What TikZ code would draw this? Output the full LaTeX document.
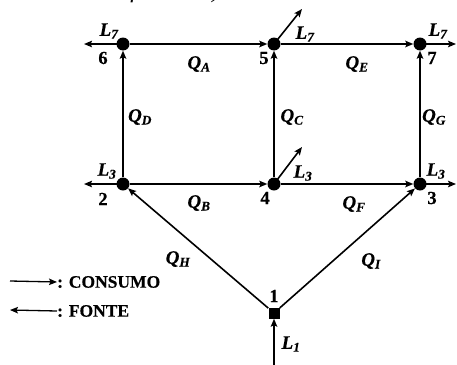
\documentclass[tikz,border=0pt]{standalone}
\usepackage{fontspec}
\setmainfont{Liberation Serif}[BoldFeatures={FakeBold=0.4},BoldItalicFeatures={FakeBold=0.4}]
\usetikzlibrary{arrows.meta}
\begin{document}
\begin{tikzpicture}[x=1pt,y=-1pt,
  dot/.style={circle,fill=black,inner sep=0pt,minimum size=13pt},
  sq/.style={rectangle,fill=black,inner sep=0pt,minimum size=11pt},
  pipe/.style={line width=1.6pt,-{Stealth[length=8pt,width=6.5pt,inset=1.5pt]}},
  lab/.style={font=\fontsize{19}{21}\selectfont\bfseries\itshape,inner sep=0pt},
  num/.style={font=\fontsize{18.5}{20}\selectfont\bfseries,inner sep=0pt},
  leg/.style={font=\fontsize{17.5}{20}\selectfont\bfseries,inner sep=0pt,anchor=west}]
\useasboundingbox (0,0) rectangle (457,364);
\clip (0,0) rectangle (457,364);
% caption remnant
\node[font=\fontsize{25}{28}\selectfont\itshape,inner sep=0pt,anchor=base west] (cap) at (-7,-2) {fonte ou de referência).};
% nodes
\node[dot] (n6) at (123,44) {};
\node[dot] (n5) at (274,44) {};
\node[dot] (n7) at (420,44) {};
\node[dot] (n2) at (123,184) {};
\node[dot] (n4) at (274,184) {};
\node[dot] (n3) at (420,184) {};
\node[sq]  (n1) at (274,313) {};
% free ends
\coordinate (c6) at (84,44);
\coordinate (c2) at (84,184);
\coordinate (c5) at (302,9);
\coordinate (c4) at (302,147);
\coordinate (c7) at (456,44);
\coordinate (c3) at (456,184);
\coordinate (c1) at (274,366);
% pipes
\draw[pipe] (n6) -- (n5);
\draw[pipe,line width=2.4pt] (n5) -- (n7);
\draw[pipe] (n2) -- (n6);
\draw[pipe] (n4) -- (n5);
\draw[pipe] (n3) -- (n7);
\draw[pipe] (n2) -- (n4);
\draw[pipe] (n4) -- (n3);
\draw[pipe] (n1) -- (n2);
\draw[pipe] (n1) -- (n3);
% loads
\draw[pipe] (n6.center) -- (c6);
\draw[pipe] (n2.center) -- (c2);
\draw[pipe] (n5.center) -- (c5);
\draw[pipe] (n4.center) -- (c4);
\draw[pipe] (n7.center) -- (c7);
\draw[pipe] (n3.center) -- (c3);
\draw[pipe] (c1) -- (n1);
% labels
\node[lab] (l6) at (109,31) {L\textsubscript{7}};
\node[num] (t6) at (103,58) {6};
\node[lab] (qa) at (199,64) {Q\textsubscript{A}};
\node[lab] (qd) at (140,117) {Q\textsubscript{D}};
\node[lab] (l2) at (107,171) {L\textsubscript{3}};
\node[num] (t2) at (103,199) {2};
\node[lab] (qb) at (199,203) {Q\textsubscript{B}};
\node[lab] (qh) at (178,259) {Q\textsubscript{H}};
\node[lab] (l5) at (305,34) {L\textsubscript{7}};
\node[num] (t5) at (264,58) {5};
\node[lab] (qe) at (357,64) {Q\textsubscript{E}};
\node[lab] (l7) at (438,31) {L\textsubscript{7}};
\node[num] (t7) at (432,58) {7};
\node[lab] (qc) at (292,117) {Q\textsubscript{C}};
\node[lab] (qg) at (434,117) {Q\textsubscript{G}};
\node[lab] (l4) at (303,173) {L\textsubscript{3}};
\node[lab] (l3) at (436,171) {L\textsubscript{3}};
\node[num] (t4) at (265,198) {4};
\node[num] (t3) at (432,198) {3};
\node[lab] (qf) at (354,204) {Q\textsubscript{F}};
\node[lab] (qi) at (371,261) {Q\textsubscript{I}};
\node[num] (t1) at (274,296) {1};
\node[lab] (l1) at (291,344) {L\textsubscript{1}};
% legend
\coordinate (la) at (10,281);
\node[leg] (lc) at (57,282) {: CONSUMO};
\draw[pipe,line width=1.3pt] (la) -- (lc.west);
\coordinate (lb) at (10,310);
\node[leg] (lf) at (57,311) {: FONTE};
\draw[pipe,line width=1.3pt] (lf.west) -- (lb);
\end{tikzpicture}
\end{document}
